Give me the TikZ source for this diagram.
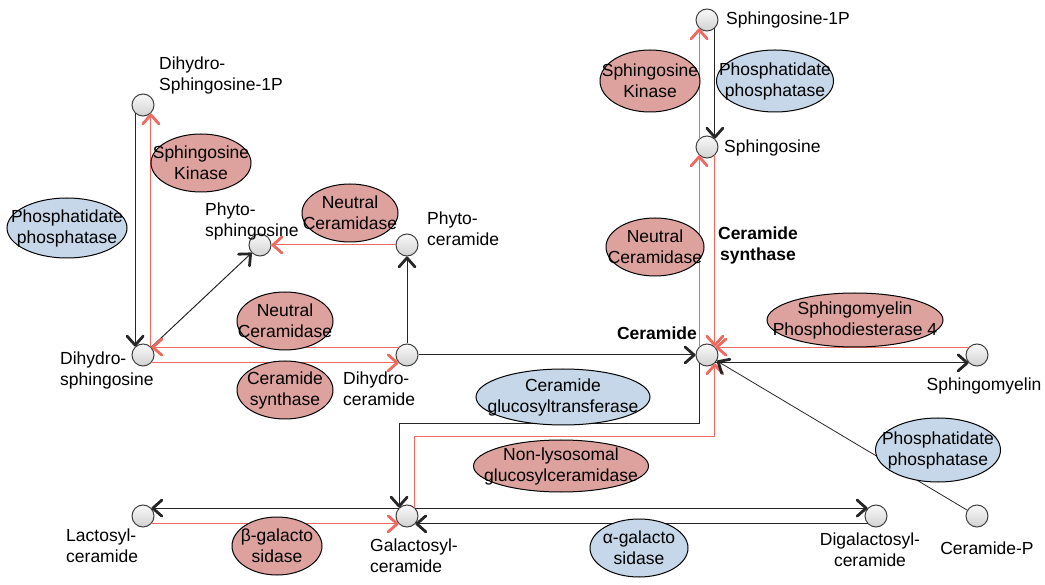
\documentclass[tikz,border=0pt]{standalone}
\usepackage{fontspec}
\setmainfont{Liberation Sans}
\usetikzlibrary{arrows.meta,shapes.geometric,calc}
\definecolor{rline}{RGB}{238,105,95}
\definecolor{rfill}{RGB}{221,162,158}
\definecolor{bfill}{RGB}{197,215,232}
\begin{document}
\begin{tikzpicture}[x=1pt,y=-1pt,
 met/.style={circle,minimum size=22pt,inner sep=0pt,draw=black!75,line width=1pt,top color=gray!5,bottom color=gray!35},
 bk/.style={draw=black!85,line width=1pt,-{Straight Barb[length=9pt,width=16pt,line width=2.8pt,round]}},
 rd/.style={draw=rline,line width=1pt,-{Straight Barb[length=9pt,width=16pt,line width=2.8pt,round]}},
 ell/.style={ellipse,draw=black,line width=1pt,inner sep=0pt},
 rell/.style={ell,fill=rfill},
 bell/.style={ell,fill=bfill},
 txt/.style={font=\fontsize{17.5}{21}\selectfont,inner sep=0pt,align=center},
 ltxt/.style={txt,align=left,anchor=west},
 ]
\useasboundingbox (0,0) rectangle (1045,585);
% metabolites
\node[met] (dS1P) at (143,105) {};
\node[met] (dS) at (143,355) {};
\node[met] (PS) at (260,245) {};
\node[met] (PC) at (407,245) {};
\node[met] (dC) at (407,355) {};
\node[met] (C) at (707,355) {};
\node[met] (S1P) at (707,20) {};
\node[met] (S) at (707,147) {};
\node[met] (SM) at (977,355) {};
\node[met] (CP) at (977,516) {};
\node[met] (G) at (407,516) {};
\node[met] (L) at (143,516) {};
\node[met] (D) at (876,516) {};
% connectors
\draw[bk] (dS1P.-133) -- (dS.133);
\draw[rd] (dS.47) -- (dS1P.-47);
\draw[bk] (dS) -- (PS);
\draw[rd] (PC) -- (PS);
\draw[bk] (dC) -- (PC);
\draw[rd] (dC.137) -- (dS.43);
\draw[rd] (dS.-43) -- (dC.-137);
\draw[bk] (dC) -- (C);
\draw[bk] (S1P.-47) -- (S.47);
\draw[rd] (S.133) -- (S1P.-133);
\draw[rd] (C.133) -- (S.-133);
\draw[rd] (S.-47) -- (C.47);
\draw[bk] (C.-133) -- (C.-133 |- 0,424) -| (G.133);
\draw[rd] (G.47) -- (G.47 |- 0,437) -| (C.-47);
\draw[rd] (SM.137) -- (C.43);
\draw[bk] (C.-43) -- (SM.-137);
\draw[bk,line width=0.8pt] (CP) -- (C);
\draw[bk] (G.137) -- (L.43);
\draw[rd] (L.-43) -- (G.-137);
\draw[bk] (G.43) -- (D.137);
\draw[bk] (D.-137) -- (G.-43);
% enzymes
\node[rell,minimum width=100pt,minimum height=58pt] (sk1) at (201,163) {};
\node[txt] at (sk1) {Sphingosine\\Kinase};
\node[bell,minimum width=120pt,minimum height=60pt] (pp1) at (67,228) {};
\node[txt] at (pp1) {Phosphatidate\\phosphatase};
\node[rell,minimum width=96pt,minimum height=58pt] (nc1) at (350,213) {};
\node[txt] at (nc1) {Neutral\\Ceramidase};
\node[rell,minimum width=96pt,minimum height=58pt] (nc2) at (285,321) {};
\node[txt] at (nc2) {Neutral\\Ceramidase};
\node[rell,minimum width=96pt,minimum height=58pt] (cs1) at (285,390) {};
\node[txt] at (cs1) {Ceramide\\synthase};
\node[rell,minimum width=100pt,minimum height=62pt] (sk2) at (650,81) {};
\node[txt] at (sk2) {Sphingosine\\Kinase};
\node[bell,minimum width=117pt,minimum height=62pt] (pp2) at (775,81) {};
\node[txt] at (pp2) {Phosphatidate\\phosphatase};
\node[rell,minimum width=98pt,minimum height=58pt] (nc3) at (655,247) {};
\node[txt] at (nc3) {Neutral\\Ceramidase};
\node[txt,font=\fontsize{17.5}{21}\selectfont\bfseries] (cs2) at (758,245) {Ceramide\\synthase};
\node[rell,minimum width=176pt,minimum height=54pt] (smpd) at (855,320) {};
\node[txt] at (smpd) {Sphingomyelin\\Phosphodiesterase 4};
\node[bell,minimum width=174pt,minimum height=56pt] (cgt) at (563,397) {};
\node[txt] at (cgt) {Ceramide\\glucosyltransferase};
\node[rell,minimum width=175pt,minimum height=52pt] (nlg) at (561,466) {};
\node[txt] at (nlg) {Non-lysosomal\\glucosylceramidase};
\node[bell,minimum width=125pt,minimum height=64pt] (pp3) at (938,450) {};
\node[txt] at (pp3) {Phosphatidate\\phosphatase};
\node[rell,minimum width=90pt,minimum height=58pt] (bg) at (277,546) {};
\node[txt] at (bg) {β-galacto\\sidase};
\node[bell,minimum width=98pt,minimum height=58pt] (ag) at (639,548) {};
\node[txt] at (ag) {α-galacto\\sidase};
% metabolite labels
\node[ltxt] (tdS1P) at (159,75.5) {Dihydro-\\Sphingosine-1P};
\node[ltxt] (tPS) at (205,221.5) {Phyto-\\sphingosine};
\node[ltxt] (tPC) at (427,229) {Phyto-\\ceramide};
\node[ltxt] (tdS) at (60,370) {Dihydro-\\sphingosine};
\node[ltxt] (tdC) at (343,389) {Dihydro-\\ceramide};
\node[txt,font=\fontsize{17.5}{21}\selectfont\bfseries,anchor=east] (tC) at (697,333) {Ceramide};
\node[ltxt] (tS1P) at (726,20) {Sphingosine-1P};
\node[ltxt] (tS) at (724,148) {Sphingosine};
\node[txt] (tSM) at (984,386) {Sphingomyelin};
\node[txt] (tCP) at (987,548) {Ceramide-P};
\node[txt] (tD) at (870,550) {Digalactosyl-\\ceramide};
\node[ltxt] (tG) at (370,556) {Galactosyl-\\ceramide};
\node[ltxt] (tL) at (66,546) {Lactosyl-\\ceramide};
\end{tikzpicture}
\end{document}
